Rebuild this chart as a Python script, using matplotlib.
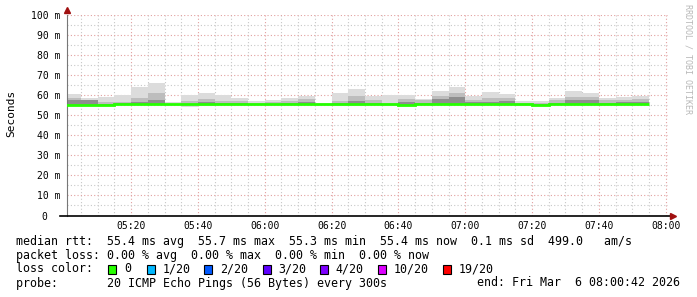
import matplotlib
matplotlib.use('Agg')
import matplotlib.pyplot as plt
from matplotlib.ticker import MultipleLocator, FuncFormatter
from matplotlib.patches import Rectangle
import numpy as np

W, H = 697, 297
MONO = 'DejaVu Sans Mono'

# 5 minute bins, start time in minutes after 05:00
bin_start = np.arange(0, 175, 5)

# smoke values per bin (ms)
rtt_median = [55.3, 55.3, 55.3, 55.6, 55.6, 55.6, 55.5, 55.4, 55.5, 55.5, 55.4, 55.4,
              55.4, 55.5, 55.5, 55.4, 55.4, 55.5, 55.4, 55.4, 55.3, 55.4, 55.5, 55.7,
              55.4, 55.4, 55.5, 55.4, 55.3, 55.4, 55.5, 55.5, 55.4, 55.4, 55.4]
rtt_min = [54.9, 54.9, 55.0, 55.0, 54.9, 54.9, 55.0, 54.3, 54.4, 54.9, 54.9, 55.0,
           54.9, 54.9, 54.9, 55.0, 54.5, 54.5, 54.9, 54.4, 54.4, 54.9, 54.9, 54.9,
           54.9, 54.9, 54.9, 54.4, 54.4, 54.9, 54.9, 54.9, 54.9, 54.9, 54.9]
rtt_max = [60.8, 58.7, 59.0, 60.0, 64.3, 66.3, 56.5, 60.0, 61.2, 60.0, 58.5, 57.0,
           57.5, 58.7, 59.8, 56.3, 61.0, 63.2, 59.8, 60.0, 60.0, 58.3, 62.0, 64.0,
           59.8, 61.7, 60.7, 57.0, 57.0, 58.8, 62.0, 61.2, 58.8, 59.2, 59.8]
rtt_upper = [58.8, 57.5, 56.5, 56.7, 58.7, 61.3, 55.8, 57.0, 58.0, 57.0, 57.0, 56.0,
             56.5, 57.3, 58.3, 55.8, 57.0, 59.8, 57.5, 56.0, 58.0, 57.5, 59.5, 61.0,
             57.8, 58.5, 58.5, 56.0, 56.0, 57.5, 59.3, 59.0, 57.5, 57.8, 58.0]
rtt_inner = [57.5, 57.5, 55.8, 56.0, 56.5, 57.5, 55.5, 55.8, 56.5, 56.3, 56.2, 55.6,
             55.8, 56.3, 56.5, 55.5, 56.0, 57.0, 56.2, 55.7, 56.8, 56.3, 58.0, 59.0,
             56.5, 56.8, 57.0, 55.6, 55.6, 56.2, 57.5, 57.5, 56.3, 56.5, 56.6]

x_ticks = [20, 40, 60, 80, 100, 120, 140, 160, 180]
y_ticks = [0, 10, 20, 30, 40, 50, 60, 70, 80, 90, 100]

loss_labels = ['0', '1/20', '2/20', '3/20', '4/20', '10/20', '19/20']
loss_colors = ['#26ff00', '#00b8ff', '#0059ff', '#5e00ff', '#7e00ff', '#dd00ff', '#ff0000']

fig = plt.figure(figsize=(W / 100, H / 100), dpi=100)
L, R, T, B = 66.7, 668, 15, 215.5
ax = fig.add_axes([L / W, 1 - B / H, (R - L) / W, (B - T) / H])

edges = np.append(bin_start, bin_start[-1] + 5)
ax.stairs(rtt_max, edges, baseline=rtt_min, fill=True, color='#dcdcdc', zorder=2)
ax.stairs(rtt_upper, edges, baseline=rtt_median, fill=True, color='#bdbdbd', zorder=2)
ax.stairs(rtt_inner, edges, baseline=rtt_median, fill=True, color='#8e8e8e', zorder=2)
ax.stairs(rtt_median, edges, baseline=None, color='#26ff00', lw=2, zorder=3)

ax.set_xlim(0.7, 180.7)
ax.set_ylim(0, 100)
ax.set_xticks(x_ticks)
ax.set_yticks(y_ticks)
ax.xaxis.set_minor_locator(MultipleLocator(5))
ax.yaxis.set_minor_locator(MultipleLocator(5))
ax.xaxis.set_major_formatter(FuncFormatter(lambda v, p: '%02d:%02d' % (5 + int(v) // 60, int(v) % 60)))
ax.yaxis.set_major_formatter(FuncFormatter(lambda v, p: '0  ' if v == 0 else '%d m' % v))
ax.set_axisbelow(True)
ax.grid(which='minor', color='#c8c8c8', linestyle=(0, (1, 2)), lw=0.8)
ax.grid(which='major', color='#e2a0a0', linestyle=(0, (1, 2)), lw=0.8)
ax.tick_params(which='both', length=0)
ax.tick_params(axis='y', pad=4.8)
ax.tick_params(axis='x', pad=4)
for lab in ax.get_xticklabels() + ax.get_yticklabels():
    lab.set_family(MONO)
    lab.set_fontsize(7)

for s in ['top', 'right']:
    ax.spines[s].set_visible(False)
ax.spines['left'].set_color('#777777')
ax.spines['bottom'].set_visible(False)
ax.plot([-1.2, 182], [0, 0], color='black', lw=1.2, clip_on=False, zorder=5)
ax.plot([182.3], [0], marker='>', ms=4, color='#a01010', clip_on=False, zorder=6)
ax.plot([0.7], [102.6], marker='^', ms=4, color='#a01010', clip_on=False, zorder=6)

fig.text(11 / W, 1 - 113 / H, 'Seconds', rotation=90, ha='center', va='center',
         family=MONO, fontsize=8)
fig.text(688 / W, 1 - 59 / H, 'RRDTOOL / TOBI OETIKER', rotation=270, ha='center',
         va='center', family=MONO, fontsize=6, color='#b8b8b8')

# legend
def ftext(x, y, s, **kw):
    fig.text(x / W, 1 - y / H, s, family=MONO, fontsize=8.4, va='center', **kw)

ftext(16, 241, 'median rtt:  55.4 ms avg  55.7 ms max  55.3 ms min  55.4 ms now  0.1 ms sd  499.0   am/s')
ftext(16, 255, 'packet loss: 0.00 % avg  0.00 % max  0.00 % min  0.00 % now')
ftext(16, 269, 'loss color:')
box_x = [108.4, 146.7, 204.4, 263.1, 320, 377.8, 443.1]
for bx, lab, col in zip(box_x, loss_labels, loss_colors):
    fig.patches.append(Rectangle((bx / W, 1 - 273.5 / H), 8 / W, 9 / H, transform=fig.transFigure,
                                 facecolor=col, edgecolor='black', lw=0.8))
    ftext(bx + 15.5, 269, lab)
ftext(16, 283, 'probe:       20 ICMP Echo Pings (56 Bytes) every 300s')
ftext(680, 283, 'end: Fri Mar  6 08:00:42 2026', ha='right')

fig.savefig('out.png', dpi=100)
